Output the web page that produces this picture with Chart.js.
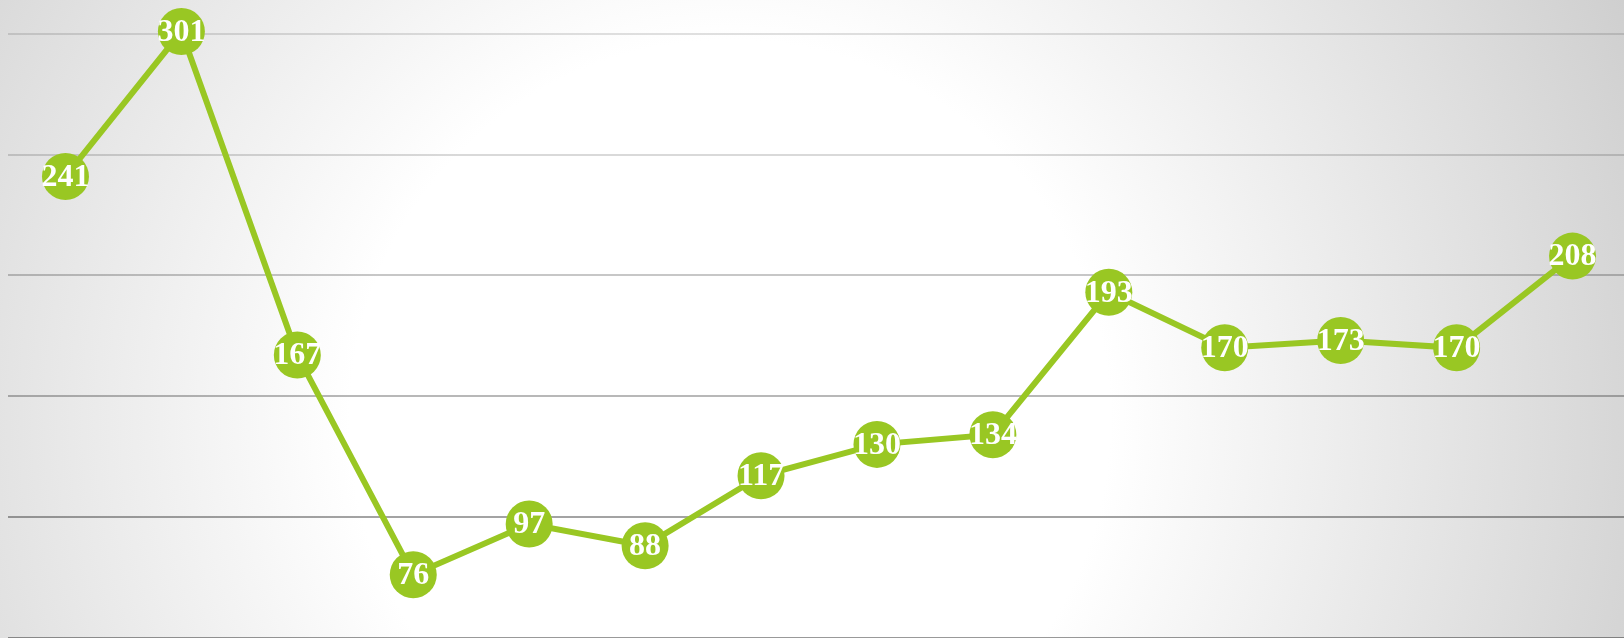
<!DOCTYPE html>
<html>
<head>
<meta charset="utf-8">
<script src="https://cdn.jsdelivr.net/npm/chart.js@4/dist/chart.umd.min.js"></script>
<style>
  html, body { margin: 0; padding: 0; overflow: hidden; }
  #wrap {
    position: relative; width: 1624px; height: 638px; overflow: hidden;
    background: radial-gradient(circle at 730px 420px, #ffffff 0px, #ffffff 380px, #cecece 1000px);
  }
  #c { position: absolute; left: -16px; top: 0px; }
</style>
</head>
<body>
<div id="wrap"><canvas id="c" width="1670" height="661" style="width:1670px;height:661px"></canvas></div>
<script>
const categories = ["1","2","3","4","5","6","7","8","9","10","11","12","13","14"];
const values = [241, 301, 167, 76, 97, 88, 117, 130, 134, 193, 170, 173, 170, 208];
const yTicks = [50, 100, 150, 200, 250, 300];

const gridColors = {
  300: 'rgba(0,0,0,0.12)', 250: 'rgba(0,0,0,0.15)', 200: 'rgba(0,0,0,0.22)',
  150: 'rgba(0,0,0,0.28)', 100: 'rgba(0,0,0,0.36)', 50: 'rgba(0,0,0,0.40)'
};

const labelPlugin = {
  id: 'valueLabels',
  afterDatasetsDraw(chart) {
    const ctx = chart.ctx;
    const meta = chart.getDatasetMeta(0);
    ctx.save();
    ctx.fillStyle = '#ffffff';
    ctx.font = 'bold 32px "Liberation Serif", "Times New Roman", serif';
    ctx.textAlign = 'center';
    ctx.textBaseline = 'middle';
    meta.data.forEach((pt, i) => {
      ctx.fillText(String(chart.data.datasets[0].data[i]), pt.x, pt.y + 1);
    });
    ctx.restore();
  }
};

new Chart(document.getElementById('c'), {
  type: 'line',
  data: {
    labels: categories,
    datasets: [{
      data: values,
      borderColor: '#99c723',
      backgroundColor: '#99c723',
      borderWidth: 6,
      tension: 0,
      pointRadius: 23.5,
      pointHoverRadius: 23.5,
      pointBorderWidth: 0,
      pointBackgroundColor: '#99c723',
      clip: false
    }]
  },
  options: {
    responsive: false,
    animation: false,
    layout: { padding: { top: 34, left: 0, right: 0, bottom: 0 } },
    plugins: { legend: { display: false }, tooltip: { enabled: false } },
    scales: {
      x: {
        offset: true,
        grid: { display: false },
        border: { display: false },
        ticks: { display: false }
      },
      y: {
        min: yTicks[0],
        max: yTicks[yTicks.length - 1],
        afterBuildTicks(scale) { scale.ticks = yTicks.map(v => ({ value: v })); },
        ticks: { display: false },
        border: { display: false },
        grid: {
          lineWidth: 2,
          drawTicks: false,
          color: (c) => gridColors[c.tick ? c.tick.value : 0] || 'rgba(0,0,0,0.25)'
        }
      }
    }
  },
  plugins: [labelPlugin]
});
</script>
</body>
</html>
